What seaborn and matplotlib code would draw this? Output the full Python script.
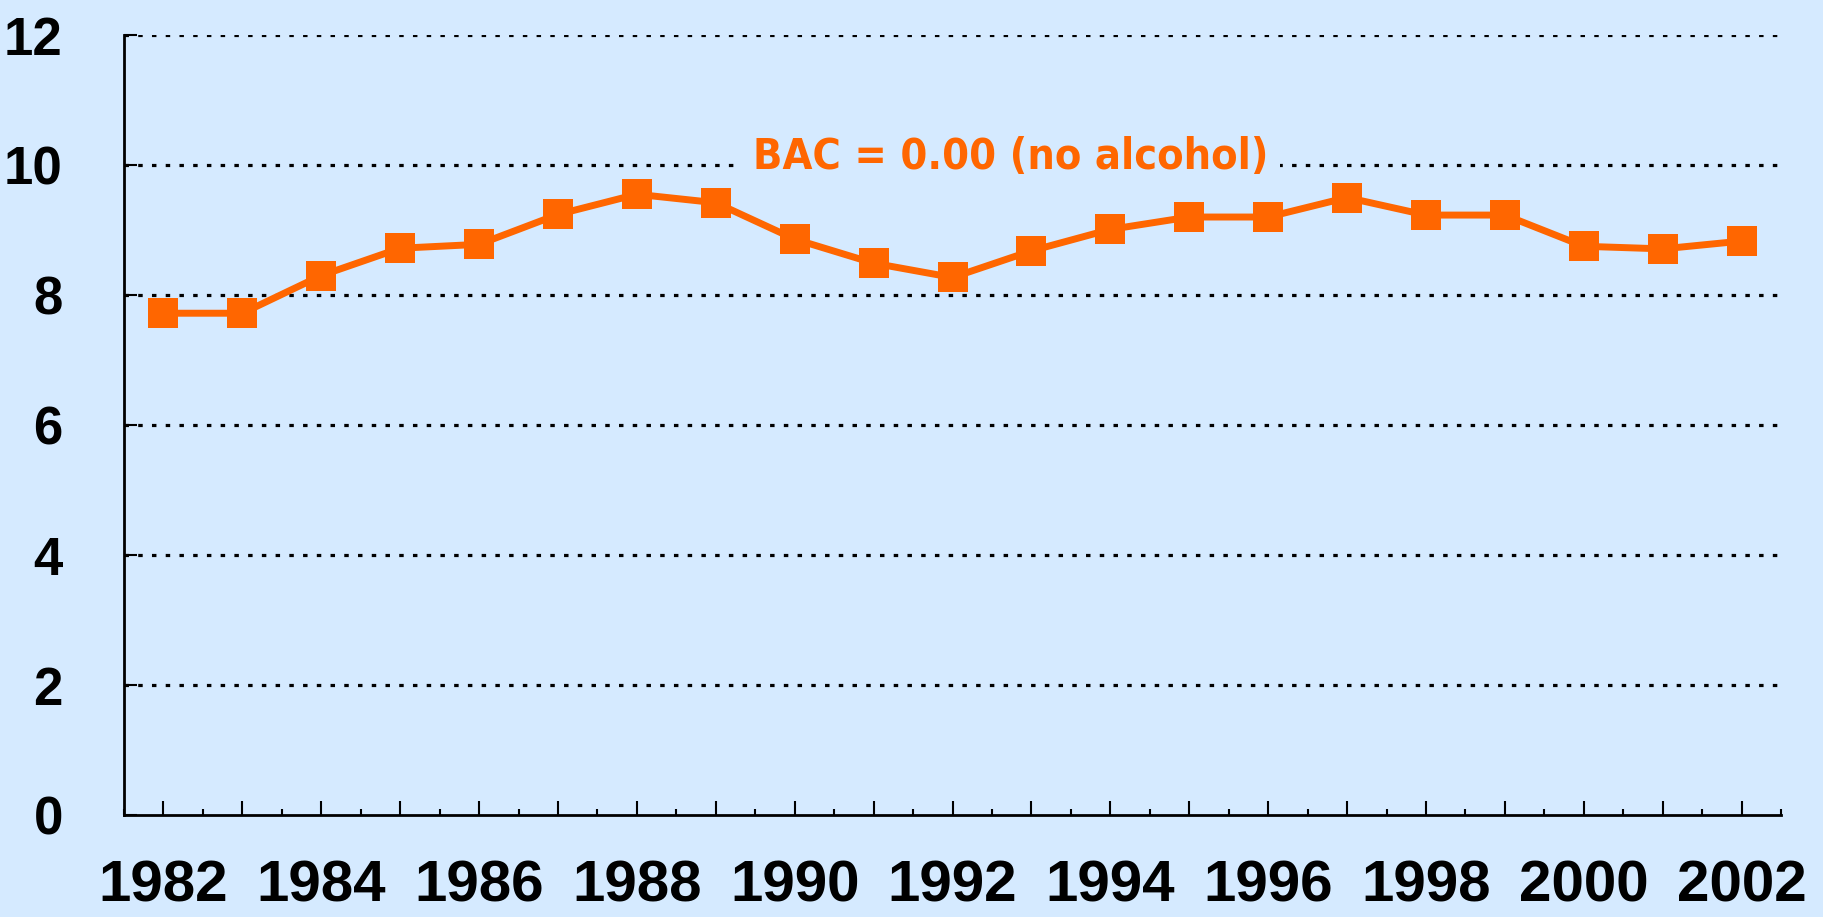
import matplotlib
matplotlib.use("Agg")
import matplotlib.pyplot as plt
import pandas as pd
import seaborn as sns
from matplotlib.ticker import FixedLocator, MultipleLocator


YEARS = list(range(1982, 2003))
BAC_ZERO = [7.72, 7.72, 8.30, 8.72, 8.78, 9.24, 9.55, 9.42, 8.86, 8.49, 8.27,
            8.68, 9.01, 9.20, 9.20, 9.50, 9.23, 9.23, 8.75, 8.71, 8.83]
SERIES_LABEL = "BAC = 0.00 (no alcohol)"
Y_TICKS = [0, 2, 4, 6, 8, 10, 12]

BG = "#D5EAFF"
ORANGE = "#FF6600"


df = pd.DataFrame({"year": YEARS, "value": BAC_ZERO})

sns.set_theme(style="white")
plt.rcParams["font.family"] = ["Liberation Sans", "DejaVu Sans"]

fig = plt.figure(figsize=(18.23, 9.17), dpi=100, facecolor=BG)
ax = fig.add_axes([0.068, 0.1112, 0.909, 0.8506])
ax.set_facecolor(BG)

sns.lineplot(data=df, x="year", y="value", color=ORANGE, linewidth=5,
             marker="s", markersize=22, markeredgewidth=0,
             markerfacecolor=ORANGE, ax=ax, legend=False)

ax.set_xlim(YEARS[0] - 0.5, YEARS[-1] + 0.5)
ax.set_ylim(0, 12)

# dotted horizontal gridlines
ax.yaxis.set_major_locator(FixedLocator(Y_TICKS))
for y in Y_TICKS[1:]:
    ax.axhline(y, color="black", linewidth=2.3, linestyle=(0, (1.4, 2.9)), zorder=0.5)

ax.xaxis.set_major_locator(FixedLocator(YEARS))
ax.xaxis.set_minor_locator(MultipleLocator(1, offset=0.5))
ax.set_xticklabels([str(y) if y % 2 == 0 else "" for y in YEARS])

ax.tick_params(axis="x", which="major", bottom=True, direction="in", length=10,
               width=1.5, color="black", pad=32, labelsize=42, labelcolor="black")
ax.tick_params(axis="x", which="minor", bottom=True, direction="in", length=4,
               width=1.5, color="black")
ax.tick_params(axis="y", which="major", left=True, direction="in", length=9,
               width=1.5, color="black", pad=44, labelsize=38, labelcolor="black")
for lbl in ax.get_xticklabels() + ax.get_yticklabels():
    lbl.set_fontweight("bold")

for side in ["top", "right"]:
    ax.spines[side].set_visible(False)
for side in ["left", "bottom"]:
    ax.spines[side].set_color("black")
    ax.spines[side].set_linewidth(2)

ax.set_xlabel("")
ax.set_ylabel("")

ax.text(1992.74, 10.12, SERIES_LABEL, color=ORANGE, fontsize=31,
        fontweight="bold", family=["DejaVu Sans"], fontstretch="condensed",
        ha="center", va="center", zorder=3,
        bbox=dict(facecolor=BG, edgecolor="none", pad=8))

fig.savefig("out.png", dpi=100, facecolor=BG)
